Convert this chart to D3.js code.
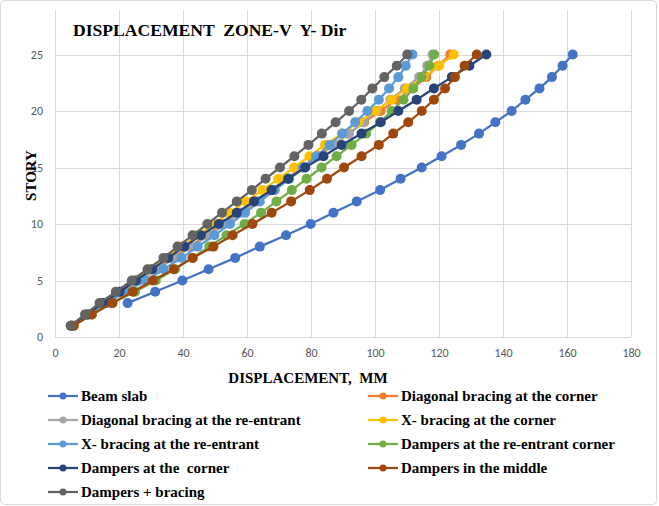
<!DOCTYPE html>
<html>
<head>
<meta charset="utf-8">
<script src="https://cdn.jsdelivr.net/npm/d3@7"></script>
<style>
  html, body { margin: 0; padding: 0; background: #fff; }
  svg { display: block; }
  text { white-space: pre; }
</style>
</head>
<body>
<div id="chart"></div>
<script>
// Story numbers (1..25)
const stories = d3.range(1, 26);

// Lateral displacement per story, mm (null where not recorded)
const beamSlab        = [null, null, 22.7, 31.3, 39.8, 48.0, 56.3, 64.0, 72.2, 79.9, 87.0, 94.3, 101.6, 108.0, 114.6, 120.8, 126.9, 132.5, 137.6, 142.7, 147.0, 151.4, 155.3, 158.6, 161.8];
const diagCorner      = [5.2, 10.2, 15.3, 20.8, 26.1, 31.5, 36.7, 42.0, 47.4, 52.4, 57.5, 62.5, 67.4, 72.3, 77.2, 82.0, 86.9, 91.8, 96.6, 101.8, 106.8, 111.8, 116.0, 119.8, 123.5];
const diagReentrant   = [5.1, 10.3, 15.6, 21.0, 26.5, 32.0, 37.4, 42.8, 48.0, 53.2, 58.3, 63.3, 68.2, 73.0, 77.8, 82.5, 87.2, 91.8, 96.3, 100.6, 104.8, 109.3, 113.8, 116.3, 118.0];
const xCorner         = [4.9, 9.6, 14.4, 19.5, 24.7, 29.7, 34.6, 39.5, 44.5, 49.5, 54.6, 59.7, 64.8, 69.8, 74.7, 79.5, 84.4, 89.6, 94.8, 100.2, 105.2, 110.0, 115.2, 120.0, 124.6];
const xReentrant      = [5.0, 10.6, 16.3, 21.9, 28.3, 33.9, 39.6, 44.6, 49.8, 54.7, 59.4, 64.0, 68.7, 73.2, 77.5, 81.6, 85.8, 89.8, 93.8, 97.6, 101.2, 104.4, 107.3, 109.6, 111.7];
const dampReentrant   = [5.5, 11.5, 18.0, 25.0, 31.5, 37.5, 43.0, 48.2, 53.6, 59.2, 64.4, 69.2, 74.0, 78.6, 83.3, 88.0, 92.7, 97.2, 101.5, 105.2, 108.9, 112.0, 114.6, 117.0, 118.5];
const dampCorner      = [5.0, 10.0, 15.0, 20.2, 25.3, 30.4, 35.4, 40.4, 45.6, 51.2, 56.8, 62.2, 67.7, 72.9, 78.2, 83.9, 89.6, 95.8, 101.8, 107.3, 113.0, 118.4, 124.0, 129.5, 134.8];
const dampMiddle      = [5.9, 11.5, 17.9, 24.3, 30.6, 37.1, 43.0, 49.5, 55.5, 61.7, 67.7, 73.8, 79.6, 85.0, 90.3, 95.8, 101.2, 105.7, 110.4, 114.6, 118.4, 121.9, 125.0, 128.0, 131.8];
const dampBracing     = [4.9, 9.4, 13.9, 19.0, 24.0, 28.9, 33.9, 38.3, 43.0, 47.6, 52.2, 56.8, 61.5, 65.8, 70.3, 74.8, 79.2, 83.4, 87.7, 91.9, 95.7, 99.2, 102.9, 106.8, 110.1];

const seriesNames = [
  "Beam slab",
  "Diagonal bracing at the corner",
  "Diagonal bracing at the re-entrant",
  "X- bracing at the corner",
  "X- bracing at the re-entrant",
  "Dampers at the re-entrant corner",
  "Dampers at the  corner",
  "Dampers in the middle",
  "Dampers + bracing"
];
const seriesValues = [beamSlab, diagCorner, diagReentrant, xCorner, xReentrant, dampReentrant, dampCorner, dampMiddle, dampBracing];
const seriesColors = ["#4472C4", "#ED7D31", "#A5A5A5", "#FFC000", "#5B9BD5", "#70AD47", "#264478", "#9E480E", "#636363"];

const xTicks = [0, 20, 40, 60, 80, 100, 120, 140, 160, 180];
const yTicks = [0, 5, 10, 15, 20, 25];

const W = 659, H = 506;
const plot = { left: 55, right: 631, top: 10, bottom: 337 };

const svg = d3.select("#chart").append("svg")
  .attr("width", W).attr("height", H);

// Chart frame
svg.append("rect")
  .attr("x", 0.5).attr("y", 0.5)
  .attr("width", 656).attr("height", 504)
  .attr("rx", 4).attr("ry", 4)
  .attr("fill", "#fff").attr("stroke", "#D9D9D9");

const x = d3.scaleLinear().domain([0, 180]).range([plot.left, plot.right]);
const y = d3.scaleLinear().domain([0, 25 * (plot.bottom - plot.top) / (plot.bottom - 54.5)]).range([plot.bottom, plot.top]);

// Gridlines
const grid = svg.append("g").attr("stroke", "#D9D9D9").attr("stroke-width", 1);
xTicks.forEach(t => {
  grid.append("line")
    .attr("x1", Math.round(x(t)) + 0.5).attr("x2", Math.round(x(t)) + 0.5)
    .attr("y1", plot.top).attr("y2", plot.bottom);
});
yTicks.forEach(t => {
  grid.append("line")
    .attr("x1", plot.left).attr("x2", plot.right)
    .attr("y1", Math.round(y(t)) + 0.5).attr("y2", Math.round(y(t)) + 0.5);
});

// Axes (labels only; lines come from the grid)
const tickFont = "Calibri, Carlito, 'Open Sans', 'Liberation Sans', sans-serif";
const xAxis = svg.append("g")
  .attr("transform", `translate(0,${plot.bottom})`)
  .call(d3.axisBottom(x).tickValues(xTicks).tickSize(0).tickPadding(11));
const yAxis = svg.append("g")
  .attr("transform", `translate(${plot.left},0)`)
  .call(d3.axisLeft(y).tickValues(yTicks).tickSize(0).tickPadding(12));
[xAxis, yAxis].forEach(a => {
  a.select(".domain").remove();
  a.selectAll("text")
    .attr("fill", "#595959")
    .style("font-family", tickFont)
    .style("font-size", "12px");
});

// Series lines and markers
const line = d3.line()
  .defined(d => d.v != null)
  .x(d => x(d.v))
  .y(d => y(d.s));

seriesValues.forEach((vals, i) => {
  const pts = stories.map((s, k) => ({ s, v: vals[k] }));
  const g = svg.append("g");
  g.append("path")
    .datum(pts)
    .attr("d", line)
    .attr("fill", "none")
    .attr("stroke", seriesColors[i])
    .attr("stroke-width", 2.25)
    .attr("stroke-linejoin", "round");
  g.selectAll("circle")
    .data(pts.filter(d => d.v != null))
    .join("circle")
    .attr("cx", d => x(d.v))
    .attr("cy", d => y(d.s))
    .attr("r", 5)
    .attr("fill", seriesColors[i]);
});

const serif = "'Liberation Serif', 'Times New Roman', serif";

// Title
svg.append("text")
  .attr("x", 73).attr("y", 36)
  .attr("fill", "#000")
  .style("font-family", serif)
  .style("font-weight", "bold")
  .style("font-size", "17.6px")
  .text("DISPLACEMENT  ZONE-V  Y- Dir");

// Axis titles
svg.append("text")
  .attr("transform", `translate(36,${(plot.top + plot.bottom) / 2 + 2}) rotate(-90)`)
  .attr("text-anchor", "middle")
  .attr("fill", "#000")
  .style("font-family", serif)
  .style("font-weight", "bold")
  .style("font-size", "15px")
  .text("STORY");

svg.append("text")
  .attr("x", 308).attr("y", 383)
  .attr("text-anchor", "middle")
  .attr("fill", "#000")
  .style("font-family", serif)
  .style("font-weight", "bold")
  .style("font-size", "15px")
  .text("DISPLACEMENT,  MM");

// Legend: two columns, filled row by row
const legend = svg.append("g");
const colX = [48, 368];
const rowY0 = 396, rowStep = 24;
seriesNames.forEach((name, i) => {
  const cx = colX[i % 2];
  const cy = rowY0 + Math.floor(i / 2) * rowStep;
  const item = legend.append("g").attr("transform", `translate(${cx},${cy})`);
  item.append("line")
    .attr("x1", 0).attr("x2", 30).attr("y1", 0).attr("y2", 0)
    .attr("stroke", seriesColors[i]).attr("stroke-width", 2.25);
  item.append("circle")
    .attr("cx", 15).attr("cy", 0).attr("r", 3.5)
    .attr("fill", seriesColors[i]);
  item.append("text")
    .attr("x", 33).attr("y", 5)
    .attr("fill", "#000")
    .style("font-family", serif)
    .style("font-weight", "bold")
    .style("font-size", "15px")
    .text(name);
});
</script>
</body>
</html>
